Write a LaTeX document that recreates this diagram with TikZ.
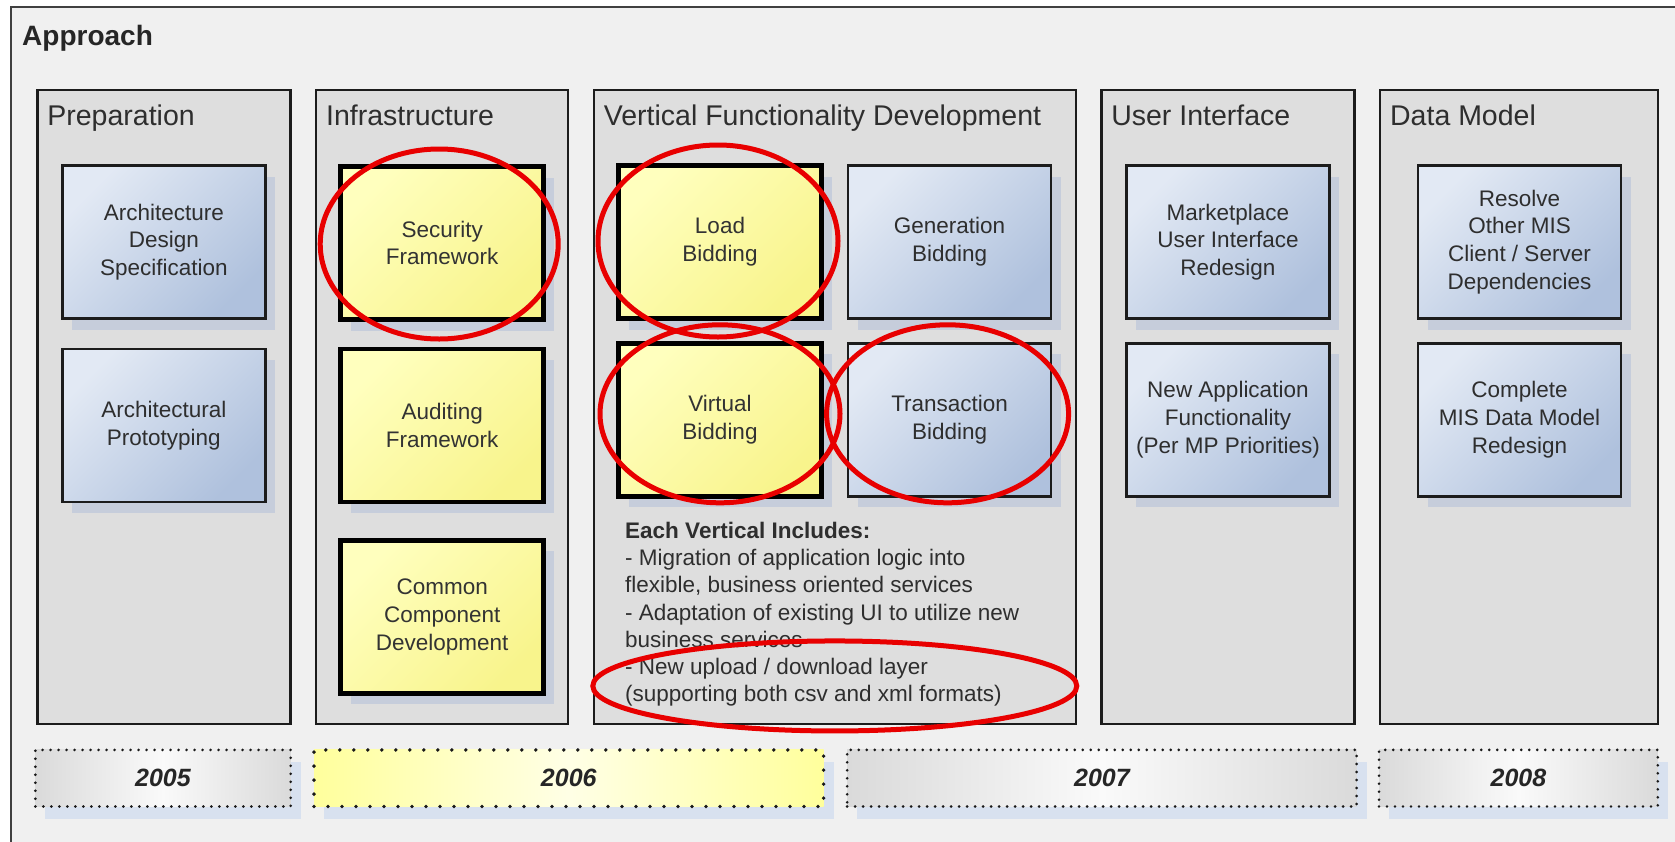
\documentclass[tikz,border=0pt]{standalone}
\usepackage{fontspec}
\setmainfont{Liberation Sans}
\usetikzlibrary{shadows}
\definecolor{bggray}{HTML}{F0F0F0}
\definecolor{framegray}{HTML}{404040}
\definecolor{panelgray}{HTML}{DEDEDE}
\definecolor{panelline}{HTML}{1C1C1C}
\definecolor{bluelight}{HTML}{E2E9F4}
\definecolor{bluedark}{HTML}{AFC1DD}
\definecolor{yellowlight}{HTML}{FFFFBE}
\definecolor{yellowdark}{HTML}{F8F48C}
\definecolor{shadowblue}{HTML}{C4CCDB}
\definecolor{yearshadow}{HTML}{D3DEEF}
\definecolor{yeargray}{HTML}{DADADA}
\definecolor{yearyellow}{HTML}{FFFF9C}
\definecolor{ringred}{HTML}{E80000}
\definecolor{textgray}{HTML}{2E2E2E}
\tikzset{
  phase/.style={draw=panelline, line width=2.4pt, fill=panelgray, minimum width=#1, minimum height=634.5pt, inner sep=0pt},
  phasetitle/.style={font=\fontsize{28.5}{32}\selectfont, text=textgray, inner sep=0pt, anchor=base west},
  taskbox/.style={draw=panelline, line width=2.4pt, top color=bluelight, bottom color=bluedark, shading angle=45,
    minimum width=203pt, minimum height=153pt, inner sep=2pt, align=center, text=textgray,
    font=\fontsize{22.5}{27.8}\selectfont,
    drop shadow={shadow xshift=10pt, shadow yshift=-11pt, fill=shadowblue, opacity=0.9}},
  keybox/.style={taskbox, draw=black, line width=4.5pt, top color=yellowlight, bottom color=yellowdark, shading angle=45, text=black!80},
  yearbar/.style={draw=black!90, line width=2.9pt, dash pattern=on 0pt off 8pt, line cap=round,
    left color=yeargray, right color=yeargray, middle color=white!96!gray,
    minimum height=56.6pt, inner sep=0pt, text=black!85,
    font=\fontsize{25}{30}\selectfont\bfseries\itshape,
    drop shadow={shadow xshift=10pt, shadow yshift=-12pt, fill=yearshadow, opacity=0.8}},
  keyyear/.style={yearbar, line width=3.8pt, dash pattern=on 0pt off 14pt,
    left color=yearyellow, right color=yearyellow, middle color=yellow!10},
  redring/.style={draw=ringred, line width=5pt}
}

\begin{document}
\begin{tikzpicture}[x=1pt,y=-1pt]
    \useasboundingbox (0,0) rectangle (1675,841);
    \fill[white] (0,0) rectangle (1675,841);
    \draw[draw=framegray, line width=2pt, fill=bggray] (10.5,6.5) rectangle (1690,860);
    \node[font=\fontsize{28}{32}\selectfont\bfseries, text=black!85, inner sep=0pt, anchor=west] (title) at (22,38) {Approach};

    % phases
    \node[phase=253.2pt] (prep)  at (164,407)    {};
    \node[phase=252.1pt] (infra) at (442.2,407)  {};
    \node[phase=481.8pt] (vert)  at (834.8,407)  {};
    \node[phase=253.2pt] (ui)    at (1227.9,407) {};
    \node[phase=277.7pt] (data)  at (1519,407)   {};

    \draw (prep.north west)  ++(11,37) node[phasetitle] (prep-t)  {Preparation};
    \draw (infra.north west) ++(11,37) node[phasetitle] (infra-t) {Infrastructure};
    \draw (vert.north west)  ++(11,37) node[phasetitle] (vert-t)  {Vertical Functionality Development};
    \draw (ui.north west)    ++(11,37) node[phasetitle] (ui-t)    {User Interface};
    \draw (data.north west)  ++(11,37) node[phasetitle] (data-t)  {Data Model};

    % tasks
    \node[taskbox] (arch)    at (163.8,242)   {Architecture\\Design\\Specification};
    \node[taskbox] (proto)   at (163.8,425.7) {Architectural\\Prototyping};
    \node[keybox]  (sec)     at (442.2,243)   {Security\\Framework};
    \node[keybox]  (audit)   at (442.2,425.7) {Auditing\\Framework};
    \node[keybox]  (common)  at (442.2,616.9) {Common\\Component\\Development};
    \node[keybox]  (load)    at (720,242)     {Load\\Bidding};
    \node[taskbox] (gen)     at (949.6,242)   {Generation\\Bidding};
    \node[keybox]  (virt)    at (720,419.8)   {Virtual\\Bidding};
    \node[taskbox] (trans)   at (949.6,419.8) {Transaction\\Bidding};
    \node[taskbox] (mkt)     at (1227.9,242)  {Marketplace\\User Interface\\Redesign};
    \node[taskbox] (newapp)  at (1227.9,419.8) {New Application\\Functionality\\(Per MP Priorities)};
    \node[taskbox] (resolve) at (1519.5,242)  {Resolve\\Other MIS\\Client / Server\\Dependencies};
    \node[taskbox] (dm)      at (1519.5,419.8) {Complete\\MIS Data Model\\Redesign};

    \node[anchor=north west, inner sep=0pt, align=left, text=textgray, font=\fontsize{22.5}{27.3}\selectfont] (incl) at (625,521.6)
      {\textbf{Each Vertical Includes:}\\- Migration of application logic into\\flexible, business oriented services\\- Adaptation of existing UI to utilize new\\business services\\- New upload / download layer\\(supporting both csv and xml formats)};

    % years
    \node[yearbar, minimum width=255.3pt] (y2005) at (163,778.2)    {2005};
    \node[keyyear, minimum width=509.6pt] (y2006) at (568.8,778.2)  {2006};
    \node[yearbar, minimum width=509.5pt] (y2007) at (1101.9,778.2) {2007};
    \node[yearbar, minimum width=278.8pt] (y2008) at (1518.4,778.2) {2008};

    % highlights
    \draw[redring] (sec.center)   ++(-3,1)  ellipse [x radius=119, y radius=95];
    \draw[redring] (load.center)  ++(-2,-1) ellipse [x radius=120, y radius=96];
    \draw[redring] (virt.center)  ++(0,-6)  ellipse [x radius=120, y radius=89];
    \draw[redring] (trans.center) ++(-2,-6) ellipse [x radius=121, y radius=89];
    \draw[redring] (vert.south)   ++(0,-39.5) ellipse [x radius=242, y radius=45];
\end{tikzpicture}
\end{document}
